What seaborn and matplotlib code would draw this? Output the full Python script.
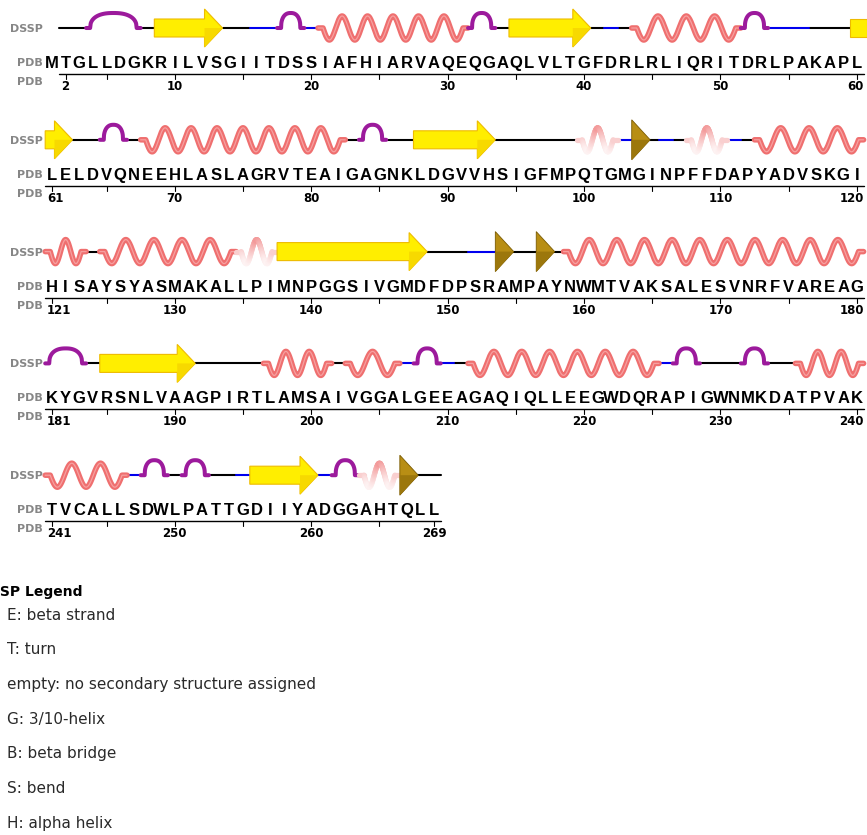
import itertools
import numpy as np
import pandas as pd
import matplotlib
matplotlib.use("Agg")
import matplotlib.pyplot as plt
from matplotlib.patches import Polygon
from matplotlib.collections import LineCollection
from matplotlib.colors import to_rgb
import seaborn as sns

# ---------------- data ----------------
row_first_residue = [1, 61, 121, 181, 241]
ruler_first_label = [2, 61, 121, 181, 241]

sequence_rows = [
    "MTGLLDGKRILVSGIITDSSIAFHIARVAQEQGAQLVLTGFDRLRLIQRITDRLPAKAPL",
    "LELDVQNEEHLASLAGRVTEAIGAGNKLDGVVHSIGFMPQTGMGINPFFDAPYADVSKGI",
    "HISAYSYASMAKALLPIMNPGGSIVGMDFDPSRAMPAYNWMTVAKSALESVNRFVAREAG",
    "KYGVRSNLVAAGPIRTLAMSAIVGGALGEEAGAQIQLLEEGWDQRAPIGWNMKDATPVAK",
    "TVCALLSDWLPATTGDIIYADGGAHTQLL",
]

# DSSP code per residue (' ' = not assigned, '-' = empty)
dssp_rows = [
    " --TTTT-EEEEE--SSTTSHHHHHHHHHHHTT-EEEEEE-S-HHHHHHHHTTSSS---E",
    "EE--TT-HHHHHHHHHHHHHHH-TT--EEEEEE------GGGSB-S-GGGS-HHHHHHHH",
    "HHH-HHHHHHHHHHGGGEEEEEEEEEEE---SSB--B-HHHHHHHHHHHHHHHHHHHHHH",
    "TTT-EEEEEEE-----HHHHH-HHHHSTTS-HHHHHHHHHHHHHHSTT---TT--HHHHH",
    "HHHHHHSTT-TT--SEEEEESTTGGGB--",
]

legend_title = "DSSP Legend"
legend_items = [
    "E: beta strand",
    "T: turn",
    "empty: no secondary structure assigned",
    "G: 3/10-helix",
    "B: beta bridge",
    "S: bend",
    "H: alpha helix",
]

# ---------------- layout (pixels) ----------------
W, H = 867, 835
CELL = 13.64      # px per residue
X0 = 45.2         # left edge of first residue cell
ROW_Y0 = 28.0     # DSSP line of first row
ROW_DY = 111.8

sns.set_theme(style="white")
plt.rcParams["font.family"] = ["DejaVu Sans"]

fig = plt.figure(figsize=(W / 100, H / 100), dpi=100)
ax = fig.add_axes([0, 0, 1, 1])


def cx(p):
    """pixel x -> residue-cell units"""
    return (p - X0) / CELL


def wave(i0, i1, yc, amp=12.0, stub=5.0):
    n_res = i1 - i0
    peaks = max(1, (n_res - 1) // 2)
    a, b = i0 + stub / CELL, i1 - stub / CELL
    t = np.linspace(0, 1, 40 * peaks + 40)
    xs = np.concatenate([[i0], a + (b - a) * t, [i1]])
    ys = np.concatenate([[yc], yc + amp * np.sin((2 * peaks + 1) * np.pi * t), [yc]])
    return xs, ys


def arch(i0, i1, yc, h=15.0, stub=4.0):
    a, b = i0 + stub / CELL, i1 - stub / CELL
    u = np.linspace(-1, 1, 81)
    xs = np.concatenate([[i0], (a + b) / 2 + u * (b - a) / 2, [i1]])
    ys = np.concatenate([[yc], yc - h * (1 - np.abs(u) ** 2.4) ** (1 / 2.4), [yc]])
    return xs, ys


# split every row into runs of the same code
segs = []
for r, codes in enumerate(dssp_rows):
    i = 0
    for code, grp in itertools.groupby(codes):
        n = len(list(grp))
        segs.append((r, code, i, i + n))
        i += n

line_pts, helix_pts, turn_pts = [], [], []
for k, (r, code, i0, i1) in enumerate(segs):
    yc = ROW_Y0 + r * ROW_DY
    if code in "-SB":
        kind = "S" if code == "S" else "-"
        line_pts += [dict(seg=k, kind=kind, x=i0, y=yc), dict(seg=k, kind=kind, x=i1, y=yc)]
    elif code == "H":
        xs, ys = wave(i0, i1, yc)
        helix_pts += [dict(seg=k, x=a, y=b) for a, b in zip(xs, ys)]
    elif code == "T":
        xs, ys = arch(i0, i1, yc)
        turn_pts += [dict(seg=k, x=a, y=b) for a, b in zip(xs, ys)]

line_df = pd.DataFrame(line_pts)
helix_df = pd.DataFrame(helix_pts)
turn_df = pd.DataFrame(turn_pts)

# backbone: empty (black) and bend (blue)
sns.lineplot(data=line_df, x="x", y="y", hue="kind", units="seg", estimator=None,
             sort=False, palette={"-": "black", "S": "#0000ee"}, lw=1.5,
             legend=False, ax=ax, zorder=1)

# alpha helices
sns.lineplot(data=helix_df, x="x", y="y", units="seg", estimator=None, sort=False,
             color="#ef6f6f", lw=4.0, legend=False, ax=ax, zorder=2)
sns.lineplot(data=helix_df, x="x", y="y", units="seg", estimator=None, sort=False,
             color="#f6a0a0", lw=0.9, legend=False, ax=ax, zorder=2)

# turns
sns.lineplot(data=turn_df, x="x", y="y", units="seg", estimator=None, sort=False,
             color="#9c1a9c", lw=2.9, legend=False, ax=ax, zorder=2)

# 3/10 helices: pale, fading towards the bottom
pink = np.array(to_rgb("#f39a9a"))
for r, code, i0, i1 in segs:
    if code != "G":
        continue
    yc = ROW_Y0 + r * ROW_DY
    xs, ys = wave(i0, i1, yc)
    pts = np.column_stack([xs, ys]).reshape(-1, 1, 2)
    lines = np.concatenate([pts[:-1], pts[1:]], axis=1)
    hgt = np.clip((yc + 12 - (ys[:-1] + ys[1:]) / 2) / 24, 0, 1)
    wgt = 0.12 + 0.88 * hgt ** 1.3
    cols = [tuple(1 - w * (1 - pink)) for w in wgt]
    ax.add_collection(LineCollection(lines, colors=cols, linewidths=3.8, zorder=2,
                                     capstyle="round"))

# strands and bridges
HEAD = 18 / CELL
for r, code, i0, i1 in segs:
    yc = ROW_Y0 + r * ROW_DY
    if code == "E":
        last_row = r == len(dssp_rows) - 1
        cont = (i1 == len(dssp_rows[r]) and not last_row and dssp_rows[r + 1][0] == "E")
        if cont:
            body = [(i0, yc - 9), (cx(W), yc - 9), (cx(W), yc + 9), (i0, yc + 9)]
            ax.add_patch(Polygon(body, closed=True, fc="#ffee00", ec="#eebb00",
                                 lw=0.8, zorder=3))
        else:
            hb = i1 - HEAD
            body = [(i0, yc - 9), (hb, yc - 9), (hb, yc - 19), (i1, yc),
                    (hb, yc + 19), (hb, yc + 9), (i0, yc + 9)]
            ax.add_patch(Polygon(body, closed=True, fc="#ffee00", ec="#eebb00",
                                 lw=0.8, zorder=3))
            ax.add_patch(Polygon([(hb, yc), (i1, yc), (hb, yc + 19)], closed=True,
                                 fc="#f7d900", ec="none", zorder=3))
    elif code == "B":
        tip = i0 + 1.35
        ax.add_patch(Polygon([(i0, yc - 20), (tip, yc), (i0, yc + 20)], closed=True,
                             fc="#b88e14", ec="#7a5a00", lw=0.6, zorder=3))
        ax.add_patch(Polygon([(i0, yc), (tip, yc), (i0, yc + 20)], closed=True,
                             fc="#9c770c", ec="none", zorder=3))

# sequence, labels and rulers
gray = "#868686"
for r, seq in enumerate(sequence_rows):
    yb = ROW_Y0 + r * ROW_DY
    ax.text(cx(43), yb + 4, "DSSP", ha="right", va="baseline", fontsize=8,
            fontweight="bold", color=gray)
    ax.text(cx(43), yb + 38, "PDB", ha="right", va="baseline", fontsize=8,
            fontweight="bold", color=gray)
    ax.text(cx(43), yb + 57, "PDB", ha="right", va="baseline", fontsize=8,
            fontweight="bold", color=gray)
    for i, ch in enumerate(seq):
        ax.text(i + 0.5, yb + 40, ch, ha="center", va="baseline", fontsize=12,
                fontweight="bold", family="Liberation Sans", color="black")

    first = ruler_first_label[r]
    last = row_first_residue[r] + len(seq) - 1
    c0 = first - row_first_residue[r]
    ax.plot([c0, len(seq)], [yb + 46, yb + 46], color="black", lw=1.0, zorder=1)
    for res in range(first, last + 1):
        c = res - row_first_residue[r] + 0.5
        if res % 5 == 0 or res in (first, last):
            ax.plot([c, c], [yb + 46, yb + 51], color="black", lw=0.8)
        if res % 10 == 0 or res in (first, last):
            if res == first and c0 == 0:
                xt, ha = cx(47), "left"
            elif res == last and len(seq) == 60:
                xt, ha = cx(864), "right"
            else:
                xt, ha = c, "center"
            ax.text(xt, yb + 62, str(res), ha=ha, va="baseline", fontsize=8.5,
                    fontweight="bold", color="black")

# legend
ax.text(cx(-21), 596, legend_title, ha="left", va="baseline", fontsize=10,
        fontweight="bold", color="black")
for j, item in enumerate(legend_items):
    ax.text(cx(7), 615 + j * 34.7, item, ha="left", va="center", fontsize=11,
            color="#2a2a2a")

ax.set_xlim(cx(0), cx(W))
ax.set_ylim(H, 0)
ax.axis("off")

fig.savefig("out.png", dpi=100)
